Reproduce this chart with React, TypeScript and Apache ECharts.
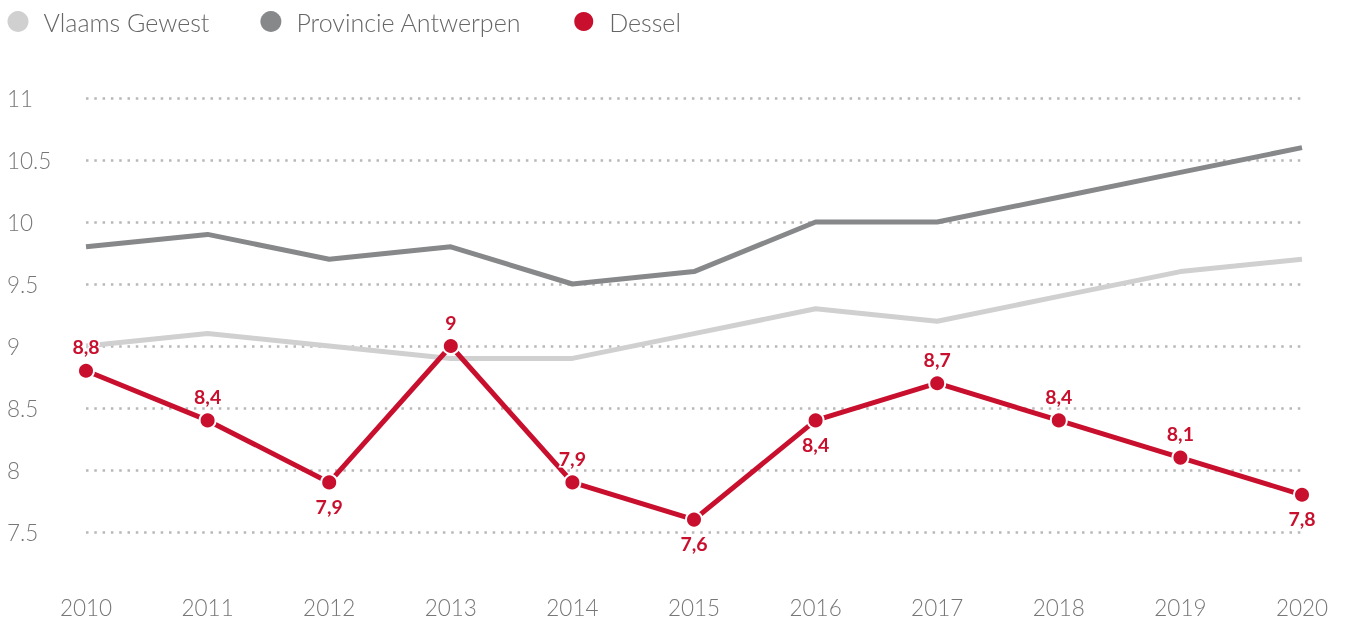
import React, { useEffect, useRef } from "react";
import * as echarts from "echarts";

const years = ["2010", "2011", "2012", "2013", "2014", "2015", "2016", "2017", "2018", "2019", "2020"];
const vlaamsGewest = [9.0, 9.1, 9.0, 8.9, 8.9, 9.1, 9.3, 9.2, 9.4, 9.6, 9.7];
const provincieAntwerpen = [9.8, 9.9, 9.7, 9.8, 9.5, 9.6, 10.0, 10.0, 10.2, 10.4, 10.6];
const dessel = [8.8, 8.4, 7.9, 9.0, 7.9, 7.6, 8.4, 8.7, 8.4, 8.1, 7.8];

const FONT = "Lato";

export default function App() {
  const ref = useRef<HTMLDivElement>(null);
  useEffect(() => {
    if (!ref.current) return;
    const chart = echarts.init(ref.current, null, { renderer: "svg" });
    const desselData = dessel.map((v, i) => {
      const below = i === dessel.length - 1 || dessel[i + 1] > v;
      return { value: v, label: { position: below ? "bottom" : "top" } };
    });
    chart.setOption({
      animation: false,
      legend: {
        left: 2.5,
        top: 4,
        icon: "circle",
        itemWidth: 21,
        itemHeight: 21,
        itemGap: 51,
        textStyle: { fontFamily: FONT, fontWeight: 300, fontSize: 25, color: "#666", padding: [0, 0, 0, 10] },
        data: ["Vlaams Gewest", "Provincie Antwerpen", "Dessel"],
      },
      grid: { left: 86, right: 44, top: 98, bottom: 27 },
      xAxis: {
        type: "category",
        data: years,
        boundaryGap: false,
        axisLine: { show: false },
        axisTick: { show: false },
        axisLabel: { fontFamily: FONT, fontWeight: 300, fontSize: 22.5, color: "#777", margin: 2 },
      },
      yAxis: {
        type: "value",
        min: 7,
        max: 11,
        interval: 0.5,
        axisLine: { show: false },
        axisTick: { show: false },
        axisLabel: {
          fontFamily: FONT,
          fontWeight: 300,
          fontSize: 22.5,
          color: "#777",
          align: "left",
          margin: 79,
          showMinLabel: false,
        },
        splitLine: {
          showMinLine: false,
          lineStyle: { color: "#b8b8b8", width: 2.5, type: [2.5, 5.8], cap: "butt" },
        },
      },
      series: [
        {
          name: "Vlaams Gewest",
          type: "line",
          data: vlaamsGewest,
          symbol: "none",
          color: "#cfd0cf",
          lineStyle: { width: 5, color: "#cfd0cf" },
        },
        {
          name: "Provincie Antwerpen",
          type: "line",
          data: provincieAntwerpen,
          symbol: "none",
          color: "#86888a",
          lineStyle: { width: 5, color: "#86888a" },
        },
        {
          name: "Dessel",
          type: "line",
          data: desselData,
          symbol: "circle",
          symbolSize: 16,
          color: "#c8102e",
          lineStyle: { width: 5, color: "#c8102e" },
          itemStyle: { color: "#c8102e", borderColor: "#fff", borderWidth: 2 },
          label: {
            show: true,
            fontFamily: FONT,
            fontWeight: "bold",
            fontSize: 19.5,
            color: "#c8102e",
            textBorderColor: "#fff",
            textBorderWidth: 3,
            distance: 5,
            formatter: (p: any) => String(p.value).replace(".", ","),
          },
        },
      ],
    });
    return () => chart.dispose();
  }, []);
  return <div ref={ref} style={{ position: "fixed", left: 0, top: 0, width: 1346, height: 621 }} />;
}
